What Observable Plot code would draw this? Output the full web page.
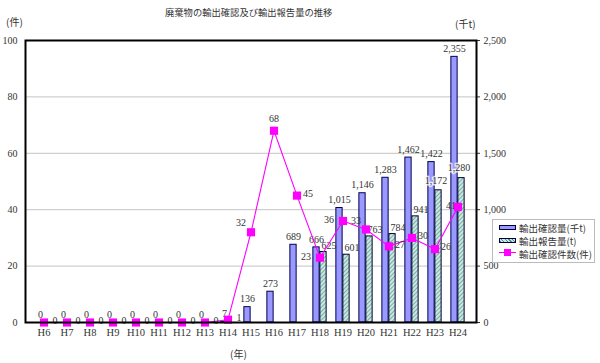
<!DOCTYPE html>
<html><head><meta charset="utf-8">
<script src="https://cdn.jsdelivr.net/npm/d3@7"></script>
<script src="https://cdn.jsdelivr.net/npm/@observablehq/plot@0.6"></script>
<style>
body{margin:0;background:#fff;}
#wrap{position:relative;width:600px;height:363px;overflow:hidden;}
.t{position:absolute;white-space:nowrap;color:#333;font-family:"Noto Sans CJK JP",sans-serif;line-height:1;}
#chart{position:absolute;left:0;top:0;}
.leg{position:absolute;left:492px;top:219px;width:101px;height:42px;border:1px solid #bbb;background:#fff;}
.row{position:absolute;left:6px;height:12px;font-size:9.5px;font-family:"Noto Sans CJK JP",sans-serif;color:#333;white-space:nowrap;}
.sw{position:absolute;left:0;top:4px;width:15px;height:3px;border:1px solid #000040;}
.lab{position:absolute;left:20px;top:0;}
</style></head><body><div id="wrap"><div id="chart"></div></div>
<script>
const years = ["H6","H7","H8","H9","H10","H11","H12","H13","H14","H15","H16","H17","H18","H19","H20","H21","H22","H23","H24"];
const confirmedKt = [0,0,0,0,0,0,0,0,7,136,273,689,666,1015,1146,1283,1462,1422,2355];
const reportedT = [null,null,null,null,null,null,null,null,null,null,null,null,625,601,763,784,941,1172,1280];
const confirmCount = [0,0,0,0,0,0,0,0,1,32,68,45,23,36,33,27,30,26,41];
const leftTicks = [0,20,40,60,80,100];
const rightTicks = [0,500,1000,1500,2000,2500];
const countLabelSide = ["right","right","right","right","right","right","right","right","right","upleft","above","right","left","left","upleft","right","right","right","behind"];
const reportLabelSide = [null,null,null,null,null,null,null,null,null,null,null,null,"right","right","right","right","right","top","top"];

const RATIO = 25; // 2,500 (千t) on right axis ↔ 100 (件) on left axis
const rows = years.map((y,i)=>({year:y, kt:confirmedKt[i], t:reportedT[i], n:confirmCount[i], side:countLabelSide[i], rside:reportLabelSide[i]}));
const fmt = d3.format(",");
const W=600, H=363, mL=25, mR=124, mT=40, mB=41;
const bw = (W-mL-mR)/years.length;
const barW = 7;
const serif = "Liberation Serif, DejaVu Serif, serif";

const sideOpts = {
  right:{dx:11,dy:-2},
  left:{dx:-14,dy:-1},
  above:{dx:0,dy:-12},
  upleft:{dx:-10,dy:-9},
  behind:{dx:-7,dy:-1}
};
const countLabels = Object.entries(sideOpts).map(([s,o]) =>
  Plot.text(rows.filter(d=>d.side===s), {x:"year", y:"n", text:d=>fmt(d.n), dx:o.dx, dy:o.dy, fill:"#333", fontSize:10}));
const rOpts = {right:{dx:9,dy:-6.5}, top:{dx:1,dy:-10}};
const reportLabels = Object.entries(rOpts).map(([s,o]) =>
  Plot.text(rows.filter(d=>d.rside===s), {x:"year", y:d=>d.t/RATIO, text:d=>fmt(d.t), dx:o.dx, dy:o.dy, fill:"#333", fontSize:10,
    stroke:s==="top"?"#fff":"none", strokeOpacity:0.75, strokeWidth:3}));

const svg = Plot.plot({
  width:W, height:H, marginLeft:mL, marginRight:mR, marginTop:mT, marginBottom:mB,
  style:{fontFamily:serif, fontSize:"10px", color:"#333", background:"#fff"},
  x:{type:"band", domain:years, padding:0, label:null},
  y:{domain:[0,100], label:null},
  marks:[
    Plot.gridY([20,40,60,80], {stroke:"#c4c4c4", strokeOpacity:1}),
    Plot.barY(rows.filter(d=>d.kt>0), {x:"year", y:d=>d.kt/RATIO, fill:"#9999ff", stroke:"#000050", strokeWidth:1,
      insetLeft:bw/2-barW, insetRight:bw/2}),
    Plot.barY(rows.filter(d=>d.t!=null), {x:"year", y:d=>d.t/RATIO, fill:"url(#hatch)", stroke:"#000030", strokeWidth:1,
      insetLeft:bw/2, insetRight:bw/2-barW}),
    Plot.text(rows, {x:"year", y:d=>d.kt/RATIO, text:d=>fmt(d.kt), dx:-3.5, dy:-8, fill:"#333", fontSize:10}),
    ...reportLabels,
    Plot.line(rows, {x:"year", y:"n", stroke:"#ff00ff", strokeWidth:1.1}),
    ...countLabels,
    Plot.dot(rows, {x:"year", y:"n", symbol:"square", r:4.6, fill:"#ff00ff", stroke:"none"}),
    Plot.axisX({tickSize:0, tickPadding:6, fontSize:10.5, label:null}),
    Plot.axisY({anchor:"left", ticks:leftTicks, tickSize:0, tickPadding:8, label:null, fontSize:10}),
    Plot.axisY({anchor:"right", ticks:rightTicks.map(v=>v/RATIO), tickFormat:v=>fmt(v*RATIO), tickSize:3, tickPadding:4, label:null, fontSize:10}),
    Plot.frame({stroke:"#000", strokeWidth:2})
  ]
});
const ns="http://www.w3.org/2000/svg";
const defs=document.createElementNS(ns,"defs");
defs.innerHTML='<pattern id="hatch" patternUnits="userSpaceOnUse" width="3" height="3" patternTransform="rotate(45)"><rect width="3" height="3" fill="#c8e8e0"/><line x1="0" y1="0" x2="0" y2="3" stroke="#4f8f88" stroke-width="1.3"/></pattern>';
svg.prepend(defs);
document.getElementById("chart").appendChild(svg);

const wrap=document.getElementById("wrap");
function addText(txt,x,y,size){const d=document.createElement("div");d.className="t";d.textContent=txt;d.style.left=x+"px";d.style.top=y+"px";d.style.fontSize=size+"px";wrap.appendChild(d);return d;}
addText("廃棄物の輸出確認及び輸出報告量の推移",165,8,9.3);
addText("(件)",6,17,10);
addText("(千t)",455,19,10);
addText("(年)",230,349,10);

const leg=document.createElement("div");leg.className="leg";
leg.innerHTML=`
<div class="row" style="top:1px"><div class="sw" style="background:#9999ff"></div><div class="lab">輸出確認量(千t)</div></div>
<div class="row" style="top:14px"><div class="sw" style="background:repeating-linear-gradient(45deg,#4f8f88 0 1px,#c8e8e0 1px 2.5px)"></div><div class="lab">輸出報告量(t)</div></div>
<div class="row" style="top:27px"><div style="position:absolute;left:0;top:5px;width:17px;height:1.3px;background:#ff00ff"></div><div style="position:absolute;left:5px;top:2px;width:7px;height:7px;background:#ff00ff"></div><div class="lab">輸出確認件数(件)</div></div>`;
wrap.appendChild(leg);
</script></body></html>
